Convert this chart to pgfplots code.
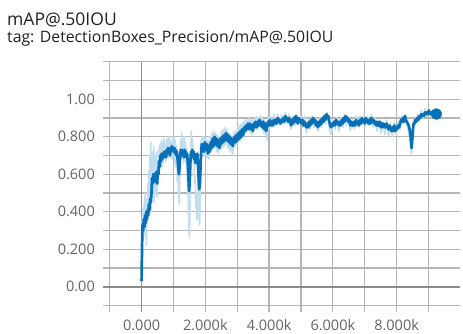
\documentclass[border=0pt]{standalone}
\usepackage{pgfplots}
\pgfplotsset{compat=1.18}
\usepackage{fontspec}
\setmainfont{Open Sans}
\definecolor{darkblue}{RGB}{8,112,184}
\definecolor{lightblue}{RGB}{192,222,240}
\definecolor{gridc}{RGB}{182,182,182}
\definecolor{zeroc}{RGB}{140,140,140}
\definecolor{tickc}{RGB}{100,100,100}
\definecolor{titlec}{RGB}{33,33,33}
\begin{document}
\begin{tikzpicture}[x=1bp,y=1bp]
\path[use as bounding box] (0,0) rectangle (463,333);
\node[anchor=base west, inner sep=0pt, text=titlec, font=\fontsize{17.5bp}{20bp}\selectfont] at (7,308) {mAP@.50IOU};
\node[anchor=base west, inner sep=0pt, text=titlec, font=\fontsize{15.8bp}{17bp}\selectfont] at (7,290.3) {tag: DetectionBoxes\_Precision/mAP@.50IOU};
\begin{axis}[
  at={(103bp,21.3bp)}, anchor=south west,
  scale only axis, width=357bp, height=250bp,
  xmin=-1210, xmax=9990, ymin=-0.133, ymax=1.2,
  axis line style={draw=none},
  major tick length=0pt,
  xtick={-1000,0,1000,2000,3000,4000,5000,6000,7000,8000,9000},
  xticklabels={,0.000,,2.000k,,4.000k,,6.000k,,8.000k,},
  ytick={-0.1,0,0.1,0.2,0.3,0.4,0.5,0.6,0.7,0.8,0.9,1.0,1.1,1.2},
  yticklabels={,0.00,,0.200,,0.400,,0.600,,0.800,,1.00,,},
  scaled ticks=false,
  /pgf/number format/assume math mode=true,
  ticklabel style={font=\fontsize{14.5bp}{16bp}\selectfont, text=tickc},
  yticklabel style={anchor=east, inner sep=0pt, xshift=-8bp},
  xticklabel style={anchor=north, inner sep=0pt, yshift=-8bp},
]
\pgfplotsinvokeforeach{-1000,1000,2000,3000,4000,5000,6000,7000,8000,9000}{
  \draw[gridc, line width=1.3bp] (axis cs:#1,-0.133) -- (axis cs:#1,1.2);
}
\pgfplotsinvokeforeach{-0.1,0.1,0.2,0.3,0.4,0.5,0.6,0.7,0.8,0.9,1.0,1.1,1.2}{
  \draw[gridc, line width=1.3bp] (axis cs:-1210,#1) -- (axis cs:9990,#1);
}
\draw[zeroc, line width=1.6bp] (axis cs:-1210,0) -- (axis cs:9990,0);
\draw[zeroc, line width=1.6bp] (axis cs:0,-0.133) -- (axis cs:0,1.2);
\addplot[lightblue, line width=1.6bp, line join=round] coordinates {
(0,0.03)(20,0.38)(35,0.25)(50,0.42)(65,0.28)(80,0.45)(95,0.30)(110,0.50)(125,0.26)(140,0.44)
(155,0.22)(170,0.47)(185,0.35)(200,0.55)(215,0.40)(230,0.62)(245,0.45)(260,0.70)(275,0.50)(290,0.77)
(305,0.40)(320,0.72)(335,0.52)(350,0.68)(365,0.48)(380,0.75)(395,0.45)(410,0.70)(425,0.58)(440,0.66)
(455,0.50)(470,0.72)(485,0.48)(500,0.64)(520,0.55)(540,0.74)(560,0.62)(580,0.76)(600,0.66)(620,0.78)
(640,0.64)(660,0.77)(680,0.66)(700,0.79)(720,0.68)(740,0.76)(760,0.67)(780,0.78)(800,0.70)(820,0.79)
(840,0.69)(860,0.80)(880,0.70)(900,0.78)(920,0.69)(940,0.77)(960,0.68)(980,0.80)(1000,0.71)(1020,0.79)
(1040,0.66)(1060,0.78)(1080,0.64)(1100,0.75)(1120,0.56)(1140,0.70)(1160,0.50)(1180,0.44)(1200,0.62)(1220,0.78)
(1240,0.68)(1260,0.82)(1280,0.69)(1300,0.78)(1320,0.66)(1340,0.80)(1360,0.67)(1380,0.77)(1400,0.64)(1420,0.74)
(1440,0.56)(1460,0.48)(1480,0.34)(1500,0.26)(1520,0.45)(1540,0.70)(1560,0.83)(1580,0.68)(1600,0.79)(1620,0.66)
(1640,0.72)(1660,0.55)(1680,0.60)(1700,0.42)(1720,0.50)(1740,0.36)(1760,0.48)(1780,0.68)(1800,0.40)(1820,0.33)
(1840,0.45)(1860,0.78)(1880,0.69)(1900,0.80)(1930,0.71)(1960,0.80)(1990,0.70)(2020,0.79)(2050,0.69)(2080,0.78)
(2110,0.68)(2140,0.80)(2170,0.72)(2200,0.82)(2230,0.73)(2260,0.83)(2290,0.74)(2320,0.82)(2350,0.72)(2380,0.81)
(2410,0.71)(2440,0.80)(2470,0.73)(2500,0.83)(2530,0.74)(2560,0.84)(2590,0.75)(2620,0.85)(2650,0.76)(2680,0.84)
(2710,0.74)(2740,0.82)(2770,0.72)(2800,0.81)(2830,0.73)(2860,0.70)(2890,0.82)(2920,0.75)(2950,0.83)(2980,0.76)
(3010,0.85)(3040,0.77)(3070,0.86)(3100,0.78)(3130,0.87)(3160,0.79)(3190,0.88)(3220,0.81)(3250,0.89)(3280,0.82)
(3310,0.89)(3340,0.83)(3370,0.90)(3400,0.82)(3430,0.89)(3460,0.81)(3490,0.89)(3520,0.83)(3550,0.90)(3580,0.84)
(3610,0.91)(3640,0.84)(3670,0.90)(3700,0.85)(3730,0.91)(3760,0.84)(3790,0.90)(3820,0.82)(3850,0.89)(3880,0.81)
(3910,0.88)(3940,0.78)(3970,0.90)(4000,0.84)(4030,0.91)(4090,0.85)(4150,0.92)(4210,0.86)(4270,0.92)(4330,0.86)
(4390,0.92)(4450,0.87)(4510,0.93)(4570,0.87)(4630,0.92)(4690,0.84)(4750,0.91)(4810,0.86)(4870,0.92)(4930,0.87)
(4990,0.91)(5050,0.85)(5110,0.91)(5170,0.82)(5230,0.89)(5290,0.84)(5350,0.91)(5410,0.85)(5470,0.90)(5530,0.83)
(5590,0.90)(5650,0.85)(5710,0.92)(5770,0.87)(5830,0.93)(5890,0.84)(5950,0.81)(6010,0.89)(6070,0.84)(6130,0.90)
(6190,0.83)(6250,0.90)(6310,0.85)(6370,0.92)(6430,0.86)(6490,0.91)(6550,0.83)(6610,0.89)(6670,0.84)(6730,0.91)
(6790,0.85)(6850,0.91)(6910,0.86)(6970,0.91)(7030,0.86)(7090,0.91)(7150,0.86)(7210,0.92)(7270,0.85)(7330,0.90)
(7390,0.83)(7450,0.89)(7510,0.82)(7570,0.88)(7630,0.81)(7690,0.89)(7750,0.80)(7810,0.87)(7870,0.80)(7930,0.88)
(7990,0.81)(8050,0.88)(8110,0.84)(8170,0.91)(8230,0.87)(8290,0.92)(8350,0.84)(8410,0.80)(8470,0.71)(8500,0.78)
(8530,0.89)(8590,0.86)(8650,0.92)(8710,0.88)(8770,0.94)(8830,0.90)(8890,0.95)(8950,0.91)(9010,0.95)(9070,0.91)
(9130,0.94)(9190,0.91)(9250,0.92)
};
\addplot[darkblue, line width=2.7bp, line join=round] coordinates {
(0,0.03)(15,0.22)(30,0.33)(50,0.30)(70,0.36)(90,0.32)(110,0.38)(130,0.34)(150,0.40)(170,0.36)
(190,0.41)(210,0.38)(230,0.44)(250,0.41)(270,0.47)(290,0.45)(310,0.50)(330,0.58)(350,0.55)(370,0.60)
(390,0.57)(410,0.60)(430,0.56)(450,0.61)(470,0.58)(490,0.55)(510,0.62)(530,0.60)(550,0.67)(570,0.64)
(590,0.70)(610,0.67)(630,0.71)(650,0.68)(670,0.71)(690,0.69)(710,0.72)(730,0.70)(750,0.72)(770,0.69)
(790,0.73)(810,0.71)(830,0.74)(850,0.72)(870,0.73)(890,0.70)(910,0.74)(930,0.72)(950,0.75)(970,0.73)
(990,0.74)(1010,0.72)(1030,0.74)(1050,0.71)(1070,0.73)(1090,0.70)(1110,0.72)(1130,0.68)(1150,0.64)(1170,0.60)
(1190,0.63)(1210,0.69)(1230,0.73)(1250,0.70)(1270,0.73)(1290,0.71)(1310,0.72)(1330,0.69)(1350,0.73)(1370,0.70)
(1390,0.72)(1410,0.69)(1430,0.71)(1450,0.66)(1470,0.58)(1490,0.51)(1510,0.56)(1530,0.66)(1550,0.72)(1570,0.69)
(1590,0.73)(1610,0.70)(1630,0.72)(1650,0.68)(1670,0.71)(1690,0.66)(1710,0.70)(1730,0.67)(1750,0.71)(1770,0.65)
(1790,0.58)(1810,0.52)(1830,0.55)(1850,0.64)(1870,0.72)(1890,0.76)(1910,0.73)(1930,0.76)(1960,0.72)(1990,0.77)
(2020,0.73)(2050,0.76)(2080,0.71)(2110,0.75)(2140,0.72)(2170,0.77)(2200,0.74)(2230,0.79)(2260,0.75)(2290,0.80)
(2320,0.76)(2350,0.79)(2380,0.75)(2410,0.78)(2440,0.74)(2470,0.79)(2500,0.76)(2530,0.80)(2560,0.77)(2590,0.81)
(2620,0.78)(2650,0.82)(2680,0.78)(2710,0.81)(2740,0.77)(2770,0.80)(2800,0.76)(2830,0.79)(2860,0.75)(2890,0.78)
(2920,0.80)(2950,0.77)(2980,0.81)(3010,0.78)(3040,0.82)(3070,0.79)(3100,0.83)(3130,0.80)(3160,0.84)(3190,0.81)
(3220,0.85)(3250,0.83)(3280,0.86)(3310,0.84)(3340,0.87)(3370,0.84)(3400,0.87)(3430,0.84)(3460,0.86)(3490,0.83)
(3520,0.87)(3550,0.85)(3580,0.88)(3610,0.85)(3640,0.88)(3670,0.86)(3700,0.89)(3730,0.86)(3760,0.88)(3790,0.85)
(3820,0.88)(3850,0.84)(3880,0.87)(3910,0.83)(3940,0.86)(3970,0.88)(4000,0.86)(4030,0.89)(4060,0.86)(4090,0.88)
(4120,0.86)(4150,0.89)(4180,0.87)(4210,0.89)(4240,0.87)(4270,0.90)(4300,0.88)(4330,0.89)(4360,0.87)(4390,0.89)
(4420,0.88)(4450,0.90)(4480,0.88)(4510,0.91)(4540,0.89)(4570,0.90)(4600,0.88)(4630,0.90)(4660,0.88)(4690,0.86)
(4720,0.89)(4750,0.87)(4780,0.90)(4810,0.88)(4840,0.91)(4870,0.89)(4900,0.87)(4930,0.90)(4960,0.88)(4990,0.89)
(5020,0.87)(5050,0.89)(5080,0.86)(5110,0.88)(5140,0.86)(5170,0.85)(5200,0.87)(5230,0.85)(5260,0.88)(5290,0.86)
(5320,0.89)(5350,0.87)(5380,0.90)(5410,0.88)(5440,0.89)(5470,0.86)(5500,0.88)(5530,0.85)(5560,0.88)(5590,0.86)
(5620,0.89)(5650,0.87)(5680,0.90)(5710,0.88)(5740,0.91)(5770,0.89)(5800,0.92)(5830,0.90)(5860,0.91)(5890,0.88)
(5920,0.86)(5950,0.85)(5980,0.87)(6010,0.86)(6040,0.88)(6070,0.86)(6100,0.89)(6130,0.87)(6160,0.88)(6190,0.86)
(6220,0.88)(6250,0.86)(6280,0.89)(6310,0.87)(6340,0.90)(6370,0.88)(6400,0.91)(6430,0.89)(6460,0.90)(6490,0.88)
(6520,0.89)(6550,0.86)(6580,0.88)(6610,0.86)(6640,0.86)(6670,0.88)(6700,0.86)(6730,0.89)(6760,0.87)(6790,0.88)
(6820,0.86)(6850,0.89)(6880,0.87)(6910,0.90)(6940,0.88)(6970,0.89)(7000,0.87)(7030,0.90)(7060,0.88)(7090,0.89)
(7120,0.87)(7150,0.89)(7180,0.87)(7210,0.90)(7240,0.88)(7270,0.89)(7300,0.87)(7330,0.88)(7360,0.86)(7390,0.88)
(7420,0.86)(7450,0.86)(7480,0.88)(7510,0.85)(7540,0.87)(7570,0.85)(7600,0.87)(7630,0.85)(7660,0.85)(7690,0.87)
(7720,0.85)(7750,0.84)(7780,0.86)(7810,0.84)(7840,0.83)(7870,0.85)(7900,0.83)(7930,0.86)(7960,0.83)(7990,0.85)
(8020,0.84)(8050,0.86)(8080,0.85)(8110,0.87)(8140,0.89)(8170,0.88)(8200,0.90)(8230,0.88)(8260,0.91)(8290,0.89)
(8320,0.88)(8350,0.87)(8380,0.86)(8410,0.84)(8440,0.80)(8470,0.74)(8500,0.80)(8530,0.87)(8560,0.87)(8590,0.89)
(8620,0.88)(8650,0.90)(8680,0.89)(8710,0.91)(8740,0.90)(8770,0.92)(8800,0.91)(8830,0.92)(8860,0.91)(8890,0.93)
(8920,0.92)(8950,0.93)(8980,0.92)(9010,0.94)(9040,0.93)(9070,0.92)(9100,0.93)(9130,0.92)(9160,0.93)(9190,0.92)
(9250,0.921)
};
\addplot[only marks, mark=*, mark size=5.5bp, darkblue] coordinates {(9250,0.921)};
\end{axis}
\end{tikzpicture}
\end{document}
